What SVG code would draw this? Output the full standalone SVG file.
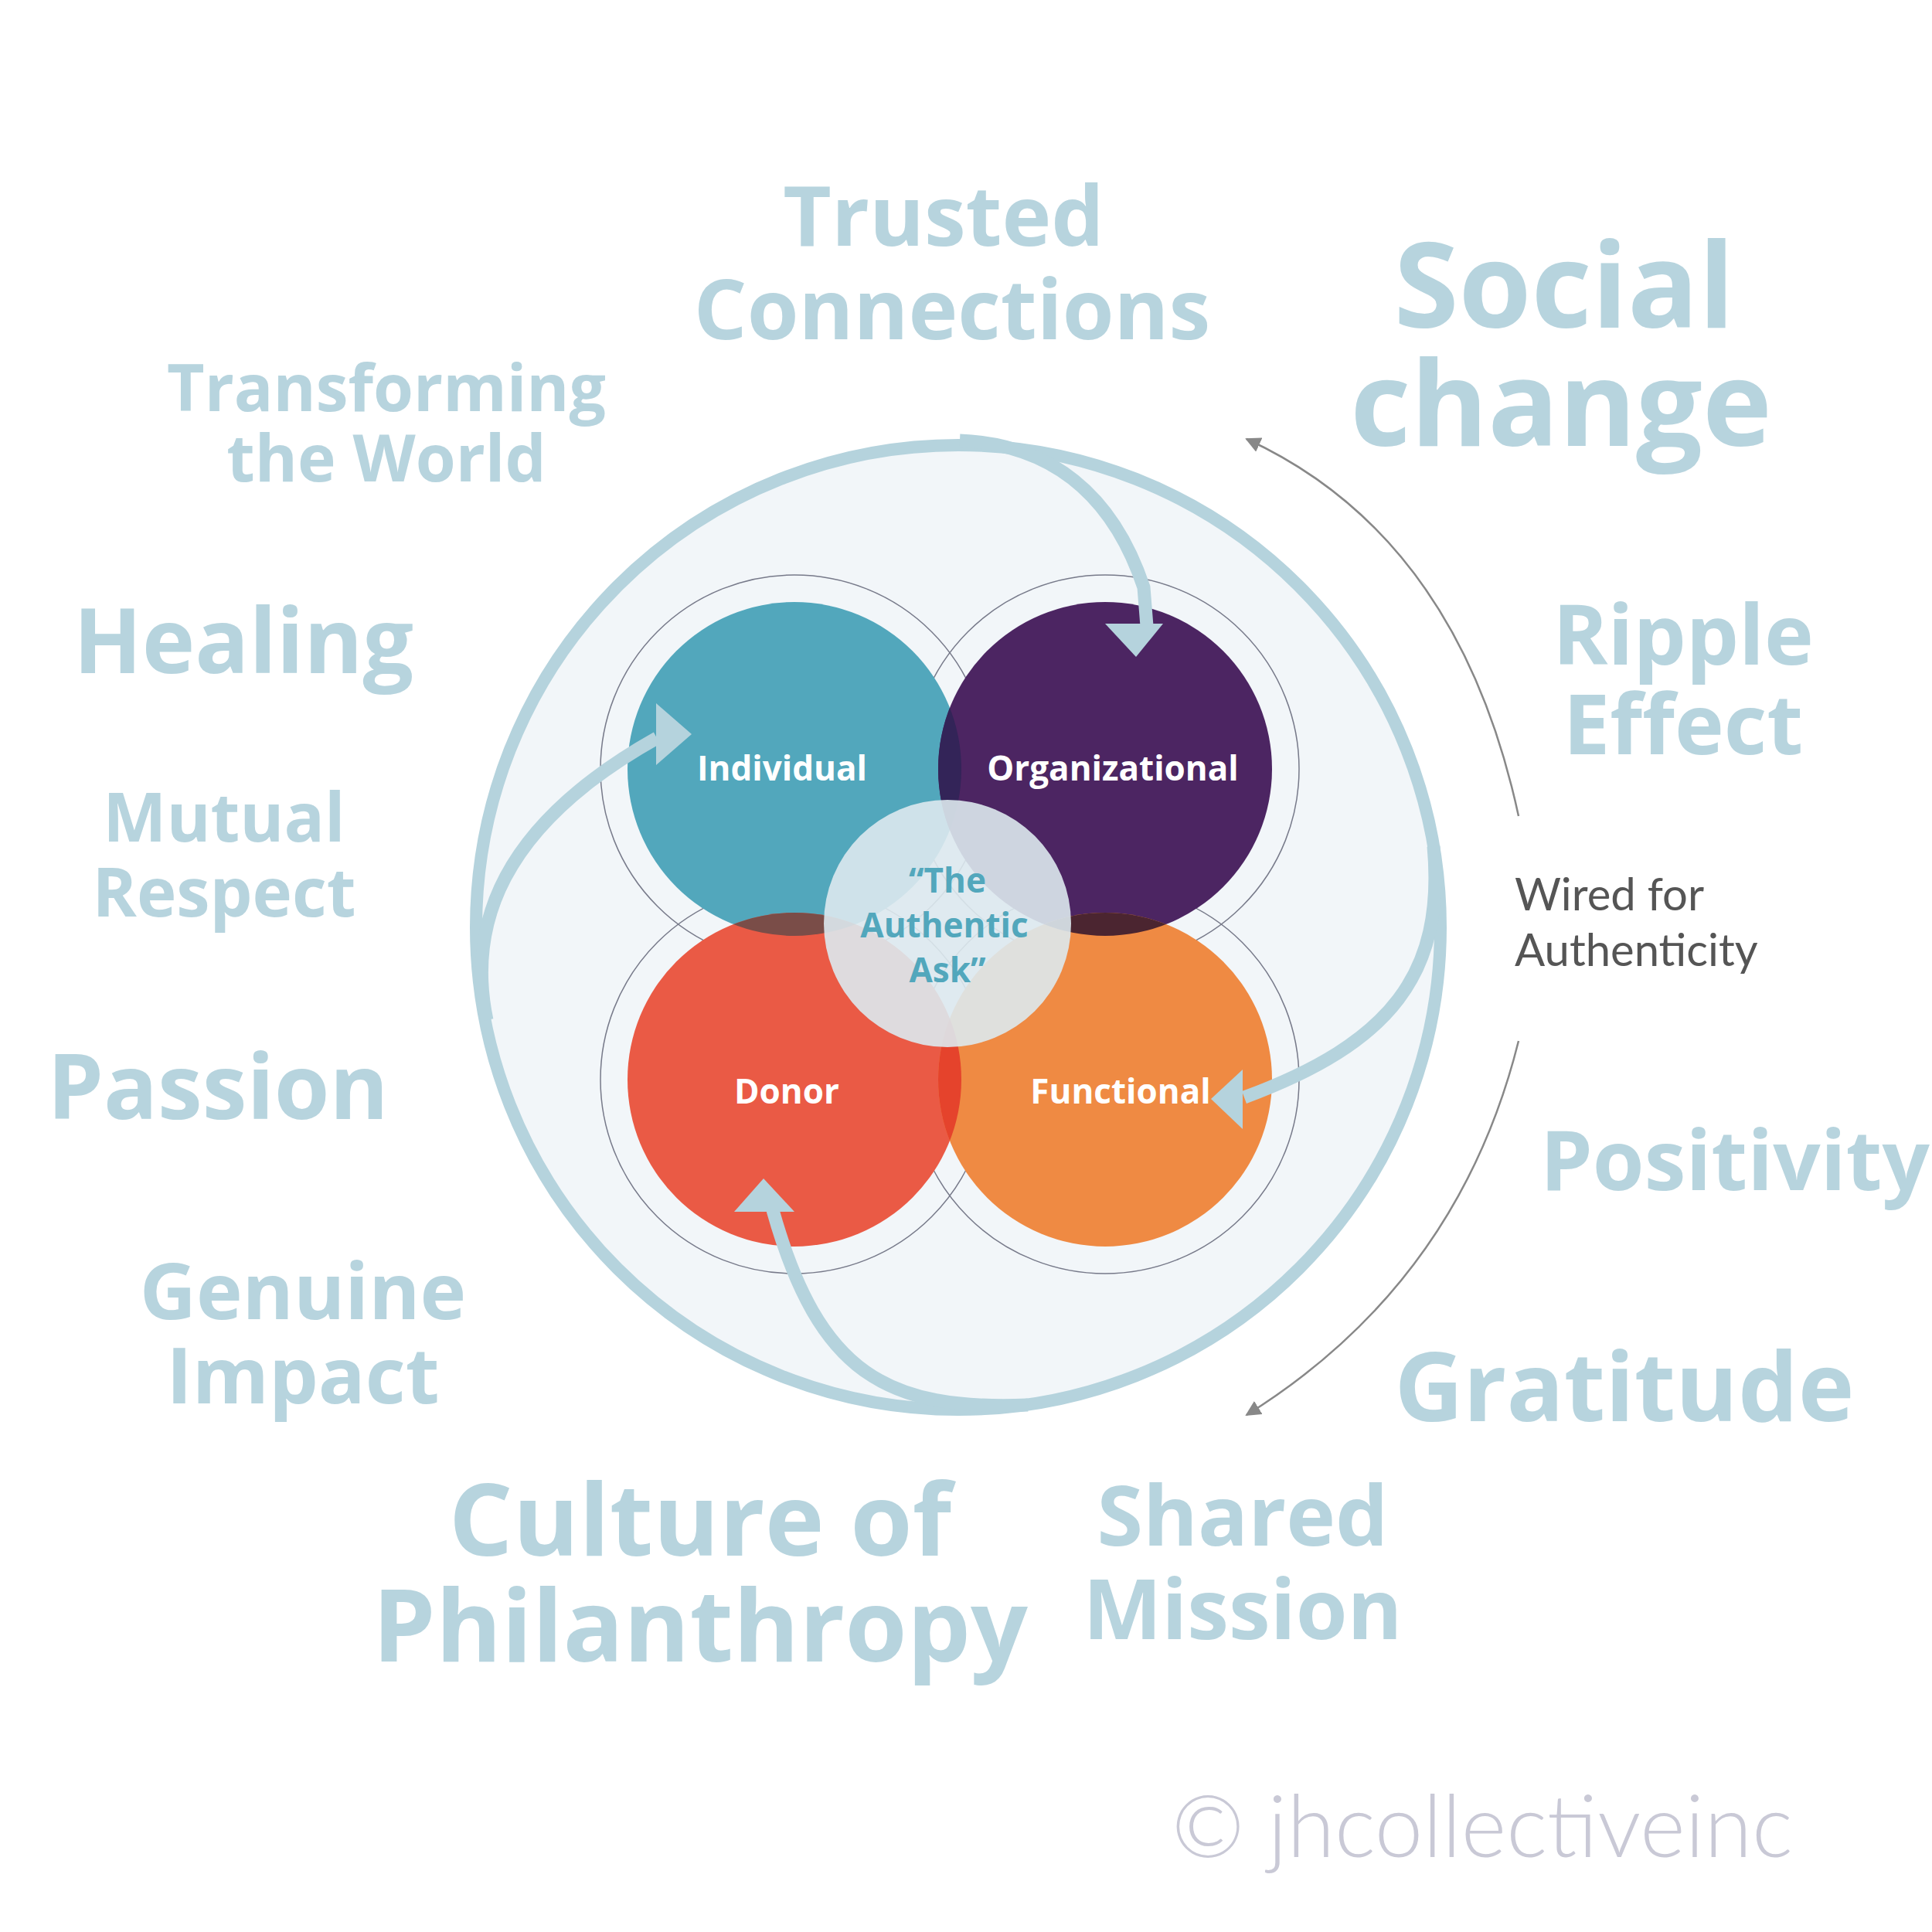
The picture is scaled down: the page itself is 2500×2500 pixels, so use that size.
<svg xmlns="http://www.w3.org/2000/svg" width="2500" height="2500" viewBox="0 0 2500 2500">
<style>
.w{font-family:"Open Sans","DejaVu Sans",sans-serif;font-weight:700;fill:#b7d4de;text-anchor:middle}
.n{font-family:"Open Sans","DejaVu Sans",sans-serif;font-weight:700;fill:#fff;text-anchor:middle;font-size:44px}
.ring{fill:none;stroke:#777a8a;stroke-width:1.5}
.arr{fill:none;stroke:#b5d3dd;stroke-width:17;stroke-linecap:butt}
.ah{fill:#b5d3dd}
</style>
<defs>
<clipPath id="cI"><circle cx="1028" cy="995" r="216"/></clipPath>
<clipPath id="cD"><circle cx="1028" cy="1397" r="216"/></clipPath>
<clipPath id="cO"><circle cx="1430" cy="995" r="216"/></clipPath>
<marker id="g" viewBox="0 0 10 10" refX="9" refY="5" markerWidth="8" markerHeight="8" orient="auto"><path d="M0,0 L10,5 L0,10 z" fill="#888"/></marker>
</defs>
<rect width="2500" height="2500" fill="#fff"/>
<g id="big"><circle cx="1240" cy="1200" r="624" fill="#f2f6f9" stroke="#b5d3dd" stroke-width="16"/></g>
<g id="rings">
<circle class="ring" cx="1028" cy="995" r="251"/><circle class="ring" cx="1430" cy="995" r="251"/>
<circle class="ring" cx="1028" cy="1397" r="251"/><circle class="ring" cx="1430" cy="1397" r="251"/>
</g>
<g id="individual"><circle cx="1028" cy="995" r="216" fill="#52a7bc"/><text class="n" x="1012" y="1010">Individual</text></g>
<g id="organizational"><circle cx="1430" cy="995" r="216" fill="#4c2562"/>
<circle cx="1430" cy="995" r="216" fill="#332458" clip-path="url(#cI)"/><text class="n" x="1440" y="1010">Organizational</text></g>
<g id="donor"><circle cx="1028" cy="1397" r="216" fill="#ea5a45"/>
<circle cx="1028" cy="1397" r="216" fill="#7a4d48" clip-path="url(#cI)"/><text class="n" x="1018" y="1428">Donor</text></g>
<g id="functional"><circle cx="1430" cy="1397" r="216" fill="#ef8a43"/>
<circle cx="1430" cy="1397" r="216" fill="#e5432c" clip-path="url(#cD)"/>
<circle cx="1430" cy="1397" r="216" fill="#4b2530" clip-path="url(#cO)"/>
<text class="n" x="1450" y="1428">Functional</text></g>
<g id="center"><circle cx="1226" cy="1195" r="160" fill="#dde9ee" opacity="0.9"/>
<text class="w" font-size="44" style="fill:#52a7bc" x="1226" y="1155">“The</text>
<text class="w" font-size="44" style="fill:#52a7bc" x="1222" y="1213">Authentic</text>
<text class="w" font-size="44" style="fill:#52a7bc" x="1226" y="1271">Ask”</text></g>
<g id="connectors">
<path class="arr" d="M1242,570 C1360,575 1440,640 1480,760 L1484,810"/>
<polygon class="ah" points="1430,807 1505,807 1470,850"/>
<path class="arr" d="M630,1320 C605,1200 645,1070 850,955"/>
<polygon class="ah" points="849,910 849,990 895,950"/>
<path class="arr" d="M1330,1818 C1150,1825 1060,1780 1000,1566"/>
<polygon class="ah" points="950,1568 1028,1568 988,1525"/>
<path class="arr" d="M1855,1095 C1870,1260 1800,1350 1610,1420"/>
<polygon class="ah" points="1608,1384 1608,1461 1567,1422"/>
<path d="M1965,1056 Q1887,694 1613,568" fill="none" stroke="#888" stroke-width="2.5" marker-end="url(#g)"/>
<path d="M1965,1347 Q1887,1660 1613,1831" fill="none" stroke="#888" stroke-width="2.5" marker-end="url(#g)"/>
</g>
<g id="words">
<text class="w" font-size="108" x="1221" y="318">Trusted</text>
<text class="w" font-size="108" x="1232" y="439">Connections</text>
<text class="w" font-size="152" x="2024" y="424">Social</text>
<text class="w" font-size="152" x="2020" y="577">change</text>
<text class="w" font-size="84" x="500" y="532">Transforming</text>
<text class="w" font-size="84" x="500" y="623">the World</text>
<text class="w" font-size="116" x="315" y="871">Healing</text>
<text class="w" font-size="87" x="290" y="1089">Mutual</text>
<text class="w" font-size="87" x="290" y="1186">Respect</text>
<text class="w" font-size="116" x="282" y="1448">Passion</text>
<text class="w" font-size="101" x="392" y="1707">Genuine</text>
<text class="w" font-size="101" x="392" y="1816">Impact</text>
<text class="w" font-size="130" x="906" y="2013">Culture of</text>
<text class="w" font-size="130" x="906" y="2150">Philanthropy</text>
<text class="w" font-size="108" x="1608" y="2000">Shared</text>
<text class="w" font-size="108" x="1608" y="2121">Mission</text>
<text class="w" font-size="123" x="2102" y="1839">Gratitude</text>
<text class="w" font-size="108" x="2245" y="1540">Positivity</text>
<text class="w" font-size="108" x="2178" y="860">Ripple</text>
<text class="w" font-size="108" x="2178" y="976">Effect</text>
<text x="1960" y="1178" font-family="Lato,'Open Sans',sans-serif" font-size="58" fill="#555">Wired for</text>
<text x="1960" y="1250" font-family="Lato,'Open Sans',sans-serif" font-size="58" fill="#555">Authenticity</text>
<text x="1516" y="2403" font-family="Lato,'Open Sans',sans-serif" font-weight="300" font-size="112" fill="#c9c9d6">© jhcollectiveinc</text>
</g>
</svg>
